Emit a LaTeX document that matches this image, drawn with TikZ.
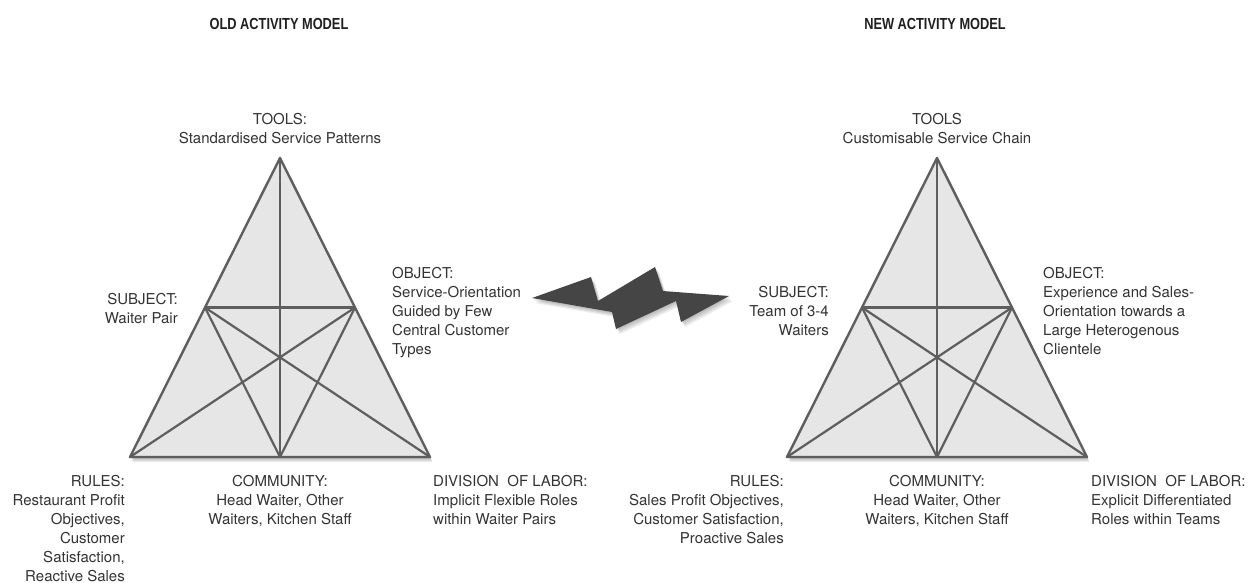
\documentclass[tikz,border=0pt]{standalone}
\usepackage{fontspec}
\setmainfont{TeX Gyre Heros}
\newfontfamily\titlefont[FakeStretch=0.8]{Liberation Sans}
\usetikzlibrary{calc}
\definecolor{txt}{HTML}{333333}
\definecolor{edge}{HTML}{5E5E5E}
\definecolor{face}{HTML}{E6E6E6}
\definecolor{boltc}{HTML}{454545}
\tikzset{
  lbl/.style={inner sep=0pt, text=txt, font=\fontsize{15}{19}\selectfont},
  ttl/.style={inner sep=0pt, text=black!88, font=\titlefont\bfseries\fontsize{16}{19}\selectfont},
  web/.style={draw=edge, line width=2.2pt, line join=round, line cap=round},
  tri/.style={fill=face, draw=edge, line width=2.4pt, line join=round},
  shd/.style={fill=black, opacity=0.07},
}
\newcommand\acttri[2]{%
  \coordinate (#1A) at (#2,158);
  \coordinate (#1L) at (#2-150,457);
  \coordinate (#1R) at (#2+150,457);
  \coordinate (#1C) at (#2,457);
  \coordinate (#1S) at ($(#1A)!0.5!(#1L)$);
  \coordinate (#1O) at ($(#1A)!0.5!(#1R)$);
  \foreach \d in {1,2,3,4,5}{
    \fill[shd] ([shift={(0.5*\d,\d)}]#1A) -- ([shift={(0.5*\d,\d)}]#1L) -- ([shift={(0.5*\d,\d)}]#1R) -- cycle;
  }
  \draw[tri] (#1A) -- (#1L) -- (#1R) -- cycle;
  \draw[web] (#1A) -- (#1C);
  \draw[web] (#1S) -- (#1O);
  \draw[web] (#1S) -- (#1C);
  \draw[web] (#1O) -- (#1C);
  \draw[web] (#1S) -- (#1R);
  \draw[web] (#1O) -- (#1L);
}
\newcommand\boltpath{(532,298) -- (591,277) -- (598,301) -- (655,267) -- (663,291) -- (729,296)
     -- (681,322) -- (676,301) -- (616,329) -- (612,312) -- cycle}
\begin{document}
\begin{tikzpicture}[x=1pt,y=-1pt]
\useasboundingbox (0,0) rectangle (1252,582);

% ---------- OLD MODEL ----------
\node[ttl] (t1) at (279,24) {OLD ACTIVITY MODEL};
\acttri{a}{280}
\node[lbl, anchor=north, align=center] (atools) at (280,113) {TOOLS:\\Standardised Service Patterns};
\node[lbl, anchor=north east, align=right] (asub) at (178,293) {SUBJECT:\\Waiter Pair};
\node[lbl, anchor=north west, align=left] (aobj) at (392,267) {OBJECT:\\Service-Orientation\\Guided by Few\\Central Customer\\Types};
\node[lbl, anchor=north east, align=right] (arul) at (125,475) {RULES:\\Restaurant Profit\\Objectives,\\Customer\\Satisfaction,\\Reactive Sales};
\node[lbl, anchor=north, align=center] (acom) at (280,475) {COMMUNITY:\\Head Waiter, Other\\Waiters, Kitchen Staff};
\node[lbl, anchor=north west, align=left] (adiv) at (433,475) {DIVISION\ \ OF LABOR:\\Implicit Flexible Roles\\within Waiter Pairs};

% ---------- NEW MODEL ----------
\node[ttl] (t2) at (935,24) {NEW ACTIVITY MODEL};
\acttri{b}{937}
\node[lbl, anchor=north, align=center] (btools) at (937,113) {TOOLS\\Customisable Service Chain};
\node[lbl, anchor=north east, align=right] (bsub) at (829,286) {SUBJECT:\\Team of 3-4\\Waiters};
\node[lbl, anchor=north west, align=left] (bobj) at (1043,267) {OBJECT:\\Experience and Sales-\\Orientation towards a\\Large Heterogenous\\Clientele};
\node[lbl, anchor=north east, align=right] (brul) at (784,475) {RULES:\\Sales Profit Objectives,\\Customer Satisfaction,\\Proactive Sales};
\node[lbl, anchor=north, align=center] (bcom) at (937,475) {COMMUNITY:\\Head Waiter, Other\\Waiters, Kitchen Staff};
\node[lbl, anchor=north west, align=left] (bdiv) at (1091,475) {DIVISION\ \ OF LABOR:\\Explicit Differentiated\\Roles within Teams};

% ---------- lightning bolt ----------
\foreach \d in {1,2,3,4}{
  \fill[shd, shift={(\d,1.3*\d)}] \boltpath;
}
\fill[boltc] \boltpath;
\end{tikzpicture}
\end{document}
